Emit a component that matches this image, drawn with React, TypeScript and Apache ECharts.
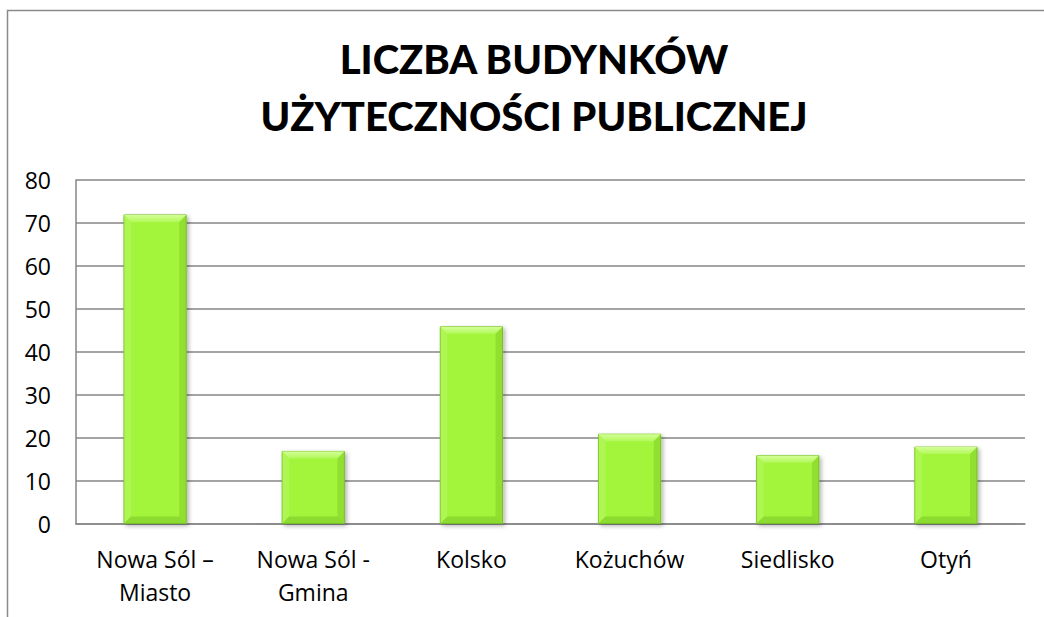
import React, { useEffect, useRef } from "react";
import * as echarts from "echarts";

const categories = ["Nowa Sól –\nMiasto", "Nowa Sól -\nGmina", "Kolsko", "Kożuchów", "Siedlisko", "Otyń"];
const values = [72, 17, 46, 21, 16, 18];
const titleText = "LICZBA BUDYNKÓW\nUŻYTECZNOŚCI PUBLICZNEJ";
const yMin = 0;
const yMax = 80;
const yInterval = 10;

export default function App() {
  const ref = useRef<HTMLDivElement>(null);
  useEffect(() => {
    document.body.style.margin = "0";
    const chart = echarts.init(ref.current!, null, { renderer: "svg" });
    const barRatio = 0.4;
    const bevel = 7;
    chart.setOption({
      animation: false,
      backgroundColor: "#ffffff",
      title: {
        text: titleText,
        left: 529,
        top: 25,
        textAlign: "center",
        textStyle: {
          fontFamily: "Lato",
          fontWeight: 900,
          fontSize: 40,
          lineHeight: 57,
          color: "#000000",
        },
      },
      graphic: [
        {
          type: "rect",
          shape: { x: 7.5, y: 10.5, width: 1200, height: 800 },
          style: { fill: "none", stroke: "#8a8a8a", lineWidth: 1.5 },
          silent: true,
          z: -1,
        },
      ],
      grid: { left: 76, right: 19, top: 180, bottom: 93, containLabel: false },
      xAxis: {
        type: "category",
        data: categories,
        axisLine: { show: true, lineStyle: { color: "#868686", width: 1.5 } },
        axisTick: { show: false },
        axisLabel: {
          margin: 18,
          fontFamily: "Open Sans",
          fontSize: 23,
          lineHeight: 33,
          color: "#000000",
          interval: 0,
        },
      },
      yAxis: {
        type: "value",
        min: yMin,
        max: yMax,
        interval: yInterval,
        axisLine: { show: true, lineStyle: { color: "#868686", width: 1.5 } },
        axisTick: { show: false },
        splitLine: { show: true, lineStyle: { color: "#868686", width: 1.5 } },
        axisLabel: {
          margin: 25,
          fontFamily: "Open Sans",
          fontSize: 23,
          color: "#000000",
        },
      },
      series: [
        {
          type: "bar",
          data: values,
          barWidth: "40%",
          itemStyle: {
            color: "#a3f53b",
            borderColor: "#7fc42c",
            borderWidth: 1,
            shadowColor: "rgba(0,0,0,0.3)",
            shadowBlur: 4,
            shadowOffsetX: 2,
            shadowOffsetY: 2,
          },
          z: 2,
        },
        {
          type: "custom",
          data: values.map((v, i) => [i, v]),
          silent: true,
          z: 3,
          renderItem: (params: any, api: any) => {
            const i = api.value(0);
            const v = api.value(1);
            const top = api.coord([i, v]);
            const base = api.coord([i, 0]);
            const w = api.size([1, 0])[0] * barRatio;
            const x0 = top[0] - w / 2 + 0.5;
            const x1 = top[0] + w / 2 - 0.5;
            const y0 = top[1] + 0.5;
            const y1 = base[1] - 0.5;
            return {
              type: "group",
              children: [
                {
                  type: "polygon",
                  shape: { points: [[x0, y0], [x1, y0], [x1 - bevel, y0 + bevel], [x0 + bevel, y0 + bevel]] },
                  style: {
                    fill: new echarts.graphic.LinearGradient(0, 0, 0, 1, [
                      { offset: 0, color: "#d4ff98" },
                      { offset: 1, color: "#b2f85a" },
                    ]),
                  },
                },
                {
                  type: "polygon",
                  shape: { points: [[x0, y0], [x0 + bevel, y0 + bevel], [x0 + bevel, y1 - bevel], [x0, y1]] },
                  style: { fill: "rgba(255,255,255,0.12)" },
                },
                {
                  type: "polygon",
                  shape: { points: [[x1, y0], [x1, y1], [x1 - bevel, y1 - bevel], [x1 - bevel, y0 + bevel]] },
                  style: { fill: "rgba(90,160,20,0.25)" },
                },
                {
                  type: "polygon",
                  shape: { points: [[x0, y1], [x1, y1], [x1 - bevel, y1 - bevel], [x0 + bevel, y1 - bevel]] },
                  style: { fill: "rgba(80,150,20,0.28)" },
                },
              ],
            };
          },
        },
      ],
    });
    return () => chart.dispose();
  }, []);
  return <div ref={ref} style={{ width: 1044, height: 617 }} />;
}
